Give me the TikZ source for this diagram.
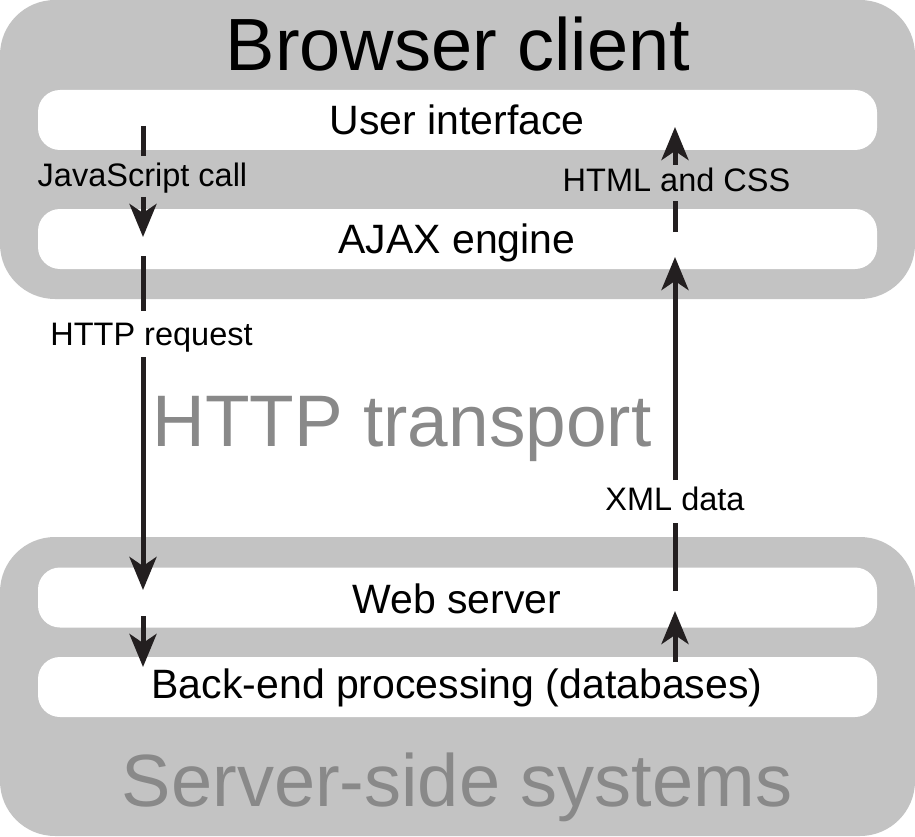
\documentclass[tikz,border=0pt]{standalone}
\usepackage{fontspec}
\setmainfont{Liberation Sans}
\usetikzlibrary{arrows.meta}
\definecolor{boxgray}{HTML}{C3C3C3}
\definecolor{textgray}{HTML}{898989}
\definecolor{arrowblack}{HTML}{231F20}
\begin{document}
\begin{tikzpicture}[x=1pt,y=-1pt,
  panel/.style={fill=boxgray, rounded corners=55pt, inner sep=0pt, minimum width=915pt},
  bar/.style={fill=white, rounded corners=22pt, inner sep=0pt, minimum width=839pt, minimum height=60pt},
  bartext/.style={anchor=base, inner sep=0pt, font=\fontsize{41}{41}\selectfont},
  bigtext/.style={anchor=base, inner sep=0pt, font=\fontsize{74}{74}\selectfont},
  lbl/.style={anchor=base, inner sep=0pt, font=\fontsize{32.5}{32.5}\selectfont},
  seg/.style={draw=arrowblack, line width=5pt},
  arr/.style={seg, -{Stealth[length=33pt,width=27pt,inset=9pt]}}
]
\useasboundingbox (0,0) rectangle (915,837);
% panels
\node[panel, minimum height=299pt] (client) at (457.5,149.5) {};
\node[panel, minimum height=299pt] (server) at (457.5,686.5) {};
% bars
\node[bar] (ui) at (457.5,120) {};
\node[bar] (ajax) at (457.5,239) {};
\node[bar] (web) at (457.5,597.5) {};
\node[bar] (back) at (457.5,687) {};
% texts
\node[bigtext] (title) at (458,71) {Browser client};
\node[bigtext, text=textgray, font=\fontsize{73}{73}\selectfont] (transport) at (402,446) {HTTP transport};
\node[bigtext, text=textgray] (servertitle) at (457,806) {Server-side systems};
\node[bartext] (uit) at (457,135) {User interface};
\node[bartext] (ajaxt) at (457,253) {AJAX engine};
\node[bartext] (webt) at (457,613) {Web server};
\node[bartext] (backt) at (457,698) {Back-end processing (databases)};
% labels
\node[lbl] (js) at (142.5,187) {JavaScript call};
\node[lbl] (httpreq) at (151.5,345) {HTTP request};
\node[lbl] (htmlcss) at (676.5,192) {HTML and CSS};
\node[lbl] (xml) at (675,510) {XML data};
% coordinates, left column
\coordinate (a1) at (143,126);
\coordinate (a2) at (143,156);
\coordinate (a3) at (143,197);
\coordinate (a4) at (143,237);
\coordinate (b1) at (143,256);
\coordinate (b2) at (143,311);
\coordinate (b3) at (143,357);
\coordinate (b4) at (143,590);
\coordinate (c1) at (143,616);
\coordinate (c2) at (143,667);
% right column
\coordinate (d1) at (675,662);
\coordinate (d2) at (675,611);
\coordinate (e1) at (675,591);
\coordinate (e2) at (675,523);
\coordinate (e3) at (675,480);
\coordinate (e4) at (675,257);
\coordinate (f1) at (675,232);
\coordinate (f2) at (675,201);
\coordinate (f3) at (675,165);
\coordinate (f4) at (675,127);
% connectors
\draw[seg] (a1) -- (a2);
\draw[arr] (a3) -- (a4);
\draw[seg] (b1) -- (b2);
\draw[arr] (b3) -- (b4);
\draw[arr] (c1) -- (c2);
\draw[arr] (d1) -- (d2);
\draw[seg] (e1) -- (e2);
\draw[arr] (e3) -- (e4);
\draw[seg] (f1) -- (f2);
\draw[arr] (f3) -- (f4);
\end{tikzpicture}
\end{document}
